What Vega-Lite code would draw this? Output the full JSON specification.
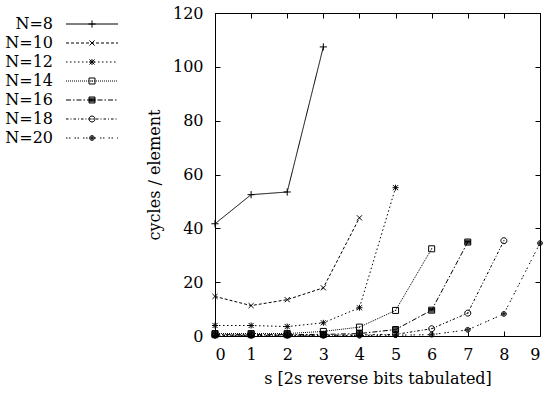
{
  "$schema": "https://vega.github.io/schema/vega-lite/v6.json",
  "width": 325,
  "height": 323,
  "autosize": {"type": "none"},
  "padding": {"left": 215, "top": 13, "right": 8, "bottom": 60},
  "background": "white",
  "config": {
    "view": {"stroke": "black", "strokeWidth": 1},
    "font": "DejaVu Serif",
    "axis": {
      "labelFont": "DejaVu Serif", "labelFontSize": 16, "labelColor": "black",
      "titleFont": "DejaVu Serif", "titleFontSize": 16, "titleFontWeight": "normal", "titleColor": "black",
      "tickColor": "black", "domainColor": "black", "ticks": false, "domain": false,
      "grid": true, "gridColor": "black", "gridWidth": 1, "gridOpacity": 1, "zindex": 1
    },
    "legend": {
      "labelFont": "DejaVu Serif", "labelFontSize": 16, "labelColor": "black", "padding": 0, "rowPadding": 3
    }
  },
  "data": {"values": [
    {"N": "N=8", "n": 8, "s": 0, "y": 41.7},
    {"N": "N=8", "n": 8, "s": 1, "y": 52.5},
    {"N": "N=8", "n": 8, "s": 2, "y": 53.5},
    {"N": "N=8", "n": 8, "s": 3, "y": 107.4},
    {"N": "N=10", "n": 10, "s": 0, "y": 14.7},
    {"N": "N=10", "n": 10, "s": 1, "y": 11.3},
    {"N": "N=10", "n": 10, "s": 2, "y": 13.5},
    {"N": "N=10", "n": 10, "s": 3, "y": 17.9},
    {"N": "N=10", "n": 10, "s": 4, "y": 43.9},
    {"N": "N=12", "n": 12, "s": 0, "y": 3.9},
    {"N": "N=12", "n": 12, "s": 1, "y": 3.9},
    {"N": "N=12", "n": 12, "s": 2, "y": 3.5},
    {"N": "N=12", "n": 12, "s": 3, "y": 4.9},
    {"N": "N=12", "n": 12, "s": 4, "y": 10.5},
    {"N": "N=12", "n": 12, "s": 5, "y": 55.1},
    {"N": "N=14", "n": 14, "s": 0, "y": 0.9},
    {"N": "N=14", "n": 14, "s": 1, "y": 0.9},
    {"N": "N=14", "n": 14, "s": 2, "y": 0.9},
    {"N": "N=14", "n": 14, "s": 3, "y": 1.7},
    {"N": "N=14", "n": 14, "s": 4, "y": 3.3},
    {"N": "N=14", "n": 14, "s": 5, "y": 9.5},
    {"N": "N=14", "n": 14, "s": 6, "y": 32.4},
    {"N": "N=16", "n": 16, "s": 0, "y": 0.5},
    {"N": "N=16", "n": 16, "s": 1, "y": 0.5},
    {"N": "N=16", "n": 16, "s": 2, "y": 0.5},
    {"N": "N=16", "n": 16, "s": 3, "y": 0.6},
    {"N": "N=16", "n": 16, "s": 4, "y": 0.9},
    {"N": "N=16", "n": 16, "s": 5, "y": 2.4},
    {"N": "N=16", "n": 16, "s": 6, "y": 9.6},
    {"N": "N=16", "n": 16, "s": 7, "y": 34.9},
    {"N": "N=18", "n": 18, "s": 0, "y": 0.3},
    {"N": "N=18", "n": 18, "s": 1, "y": 0.3},
    {"N": "N=18", "n": 18, "s": 2, "y": 0.3},
    {"N": "N=18", "n": 18, "s": 3, "y": 0.3},
    {"N": "N=18", "n": 18, "s": 4, "y": 0.4},
    {"N": "N=18", "n": 18, "s": 5, "y": 0.6},
    {"N": "N=18", "n": 18, "s": 6, "y": 2.7},
    {"N": "N=18", "n": 18, "s": 7, "y": 8.5},
    {"N": "N=18", "n": 18, "s": 8, "y": 35.4},
    {"N": "N=20", "n": 20, "s": 0, "y": 0.2},
    {"N": "N=20", "n": 20, "s": 1, "y": 0.2},
    {"N": "N=20", "n": 20, "s": 2, "y": 0.2},
    {"N": "N=20", "n": 20, "s": 3, "y": 0.2},
    {"N": "N=20", "n": 20, "s": 4, "y": 0.2},
    {"N": "N=20", "n": 20, "s": 5, "y": 0.3},
    {"N": "N=20", "n": 20, "s": 6, "y": 0.5},
    {"N": "N=20", "n": 20, "s": 7, "y": 2.3},
    {"N": "N=20", "n": 20, "s": 8, "y": 8.2},
    {"N": "N=20", "n": 20, "s": 9, "y": 34.5}
  ]},
  "encoding": {
    "x": {"field": "s", "type": "quantitative", "scale": {"domain": [0, 9], "nice": false, "zero": false},
          "axis": {"orient": "bottom", "values": [0,1,2,3,4,5,6,7,8,9], "title": "s [2s reverse bits tabulated]", "labelPadding": 10, "titlePadding": 8, "gridDash": [5, 313], "zindex": 1}},
    "y": {"field": "y", "type": "quantitative", "scale": {"domain": [0, 120], "nice": false},
          "axis": {"orient": "left", "values": [0,20,40,60,80,100,120], "title": "cycles / element", "labelPadding": 12, "titlePadding": 10, "gridDash": [5, 315], "zindex": 1}}
  },
  "layer": [
    {
      "mark": {"type": "line", "stroke": "black", "strokeWidth": 1},
      "encoding": {
        "strokeDash": {
          "field": "N", "type": "nominal",
          "scale": {"domain": ["N=8","N=10","N=12","N=14","N=16","N=18","N=20"],
                    "range": [[1,0],[3,2],[1.5,2.5],[1,1],[5,2,1.5,2],[2.5,2,1,2],[1.5,1.5,1.5,4]]},
          "legend": {"orient": "none", "legendX": -131, "legendY": 3, "title": null,
                     "symbolType": "M-5.2,0L5.2,0", "symbolSize": 100, "symbolStrokeColor": "black", "symbolStrokeWidth": 1,
                     "labelAlign": "right", "labelOffset": -47, "labelExpr": "' '"}
        }
      }
    },
    {
      "mark": {"type": "point", "size": 36, "filled": false, "color": "black", "stroke": "black", "strokeWidth": 1, "opacity": 1},
      "encoding": {
        "shape": {
          "field": "n", "type": "ordinal",
          "scale": {"domain": [8,10,12,14,16,18,20],
                    "range": [
                      "M-1.2,0L1.2,0M0,-1.2L0,1.2",
                      "M-0.85,-0.85L0.85,0.85M-0.85,0.85L0.85,-0.85",
                      "M-0.85,-0.85L0.85,0.85M-0.85,0.85L0.85,-0.85M-1,0L1,0M0,-1L0,1",
                      "M-1,-1L1,-1L1,1L-1,1Z M-0.2,0L0.2,0",
                      "M-1,-1L1,-1L1,1L-1,1ZM-1,-0.6L1,-0.6M-1,-0.2L1,-0.2M-1,0.2L1,0.2M-1,0.6L1,0.6",
                      "M1,0A1,1,0,1,1,-1,0A1,1,0,1,1,1,0Z M-0.2,0L0.2,0",
                      "M0.8,0A0.8,0.8,0,1,1,-0.8,0A0.8,0.8,0,1,1,0.8,0ZM0.45,0A0.45,0.45,0,1,1,-0.45,0A0.45,0.45,0,1,1,0.45,0ZM-0.2,0L0.2,0M0,-0.2L0,0.2"
                    ]},
          "legend": {"orient": "none", "legendX": -131, "legendY": 3, "title": null,
                     "symbolSize": 36, "symbolStrokeColor": "black", "symbolFillColor": "transparent", "symbolStrokeWidth": 1, "symbolOpacity": 1,
                     "labelAlign": "right", "labelOffset": -47, "labelExpr": "'N=' + datum.label"}
        }
      }
    }
  ]
}
